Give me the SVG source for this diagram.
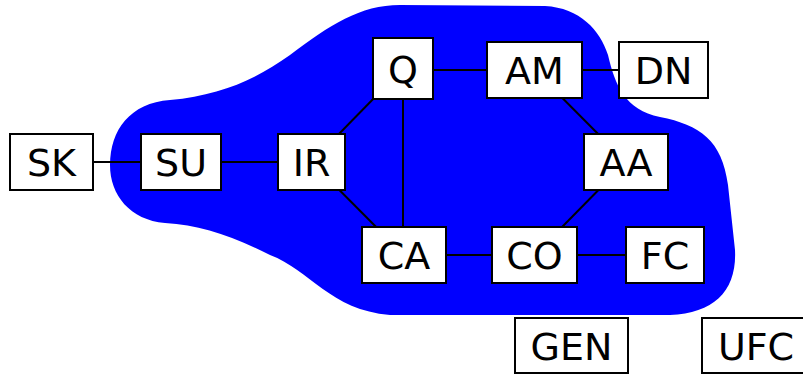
<svg xmlns="http://www.w3.org/2000/svg" width="803" height="375" viewBox="0 0 803 375">
<style>
.n rect{fill:#fff;stroke:#000;stroke-width:2}
.n text{font-family:"DejaVu Sans",sans-serif;font-size:38px;fill:#000;text-anchor:middle}
#edges line{stroke:#000;stroke-width:2}
</style>
<rect width="803" height="375" fill="#fff"/>
<path id="blob" fill="#0000ff" d="M400,5 L545,6 C580,8 600,30 608,55 C615,85 625,110 660,117 C700,125 722,140 728,185 L735,250 C737,290 715,313 670,315 L390,315 C330,310 310,270 270,255 C230,235 200,225 165,223 C130,220 110,195 110,165 C110,130 130,103 170,100 C220,95 255,80 290,55 C330,25 360,5 400,5 Z"/>
<g id="edges">
<line x1="51" y1="162" x2="181" y2="162"/>
<line x1="181" y1="162" x2="311" y2="162"/>
<line x1="311.5" y1="162" x2="403" y2="68.5"/>
<line x1="311.5" y1="162" x2="404" y2="255"/>
<line x1="403" y1="68.5" x2="403" y2="255"/>
<line x1="403" y1="70" x2="534" y2="70"/>
<line x1="534" y1="70" x2="663" y2="70"/>
<line x1="534.5" y1="70" x2="626" y2="162"/>
<line x1="626" y1="162" x2="534.5" y2="255"/>
<line x1="404" y1="255" x2="534" y2="255"/>
<line x1="534" y1="255" x2="665" y2="255"/>
</g>
<g id="SK" class="n"><rect x="10" y="134" width="83" height="56"/><text x="51.5" y="176">SK</text></g>
<g id="SU" class="n"><rect x="141" y="134" width="80" height="56"/><text x="181" y="176">SU</text></g>
<g id="IR" class="n"><rect x="278" y="134" width="67" height="56"/><text x="311.5" y="176">IR</text></g>
<g id="Q" class="n"><rect x="373" y="38" width="60" height="61"/><text x="403" y="83">Q</text></g>
<g id="AM" class="n"><rect x="487" y="42" width="95" height="56"/><text x="534.5" y="84">AM</text></g>
<g id="DN" class="n"><rect x="619" y="42" width="89" height="56"/><text x="663.5" y="84">DN</text></g>
<g id="AA" class="n"><rect x="584" y="134" width="84" height="56"/><text x="626" y="176">AA</text></g>
<g id="CA" class="n"><rect x="362" y="227" width="84" height="56"/><text x="404" y="269">CA</text></g>
<g id="CO" class="n"><rect x="492" y="227" width="85" height="56"/><text x="534.5" y="269">CO</text></g>
<g id="FC" class="n"><rect x="626" y="227" width="78" height="56"/><text x="665" y="269">FC</text></g>
<g id="GEN" class="n"><rect x="515" y="318" width="113" height="55"/><text x="571.5" y="359.5">GEN</text></g>
<g id="UFC" class="n"><rect x="702" y="318" width="110" height="55"/><text x="756" y="359.5">UFC</text></g>
</svg>
